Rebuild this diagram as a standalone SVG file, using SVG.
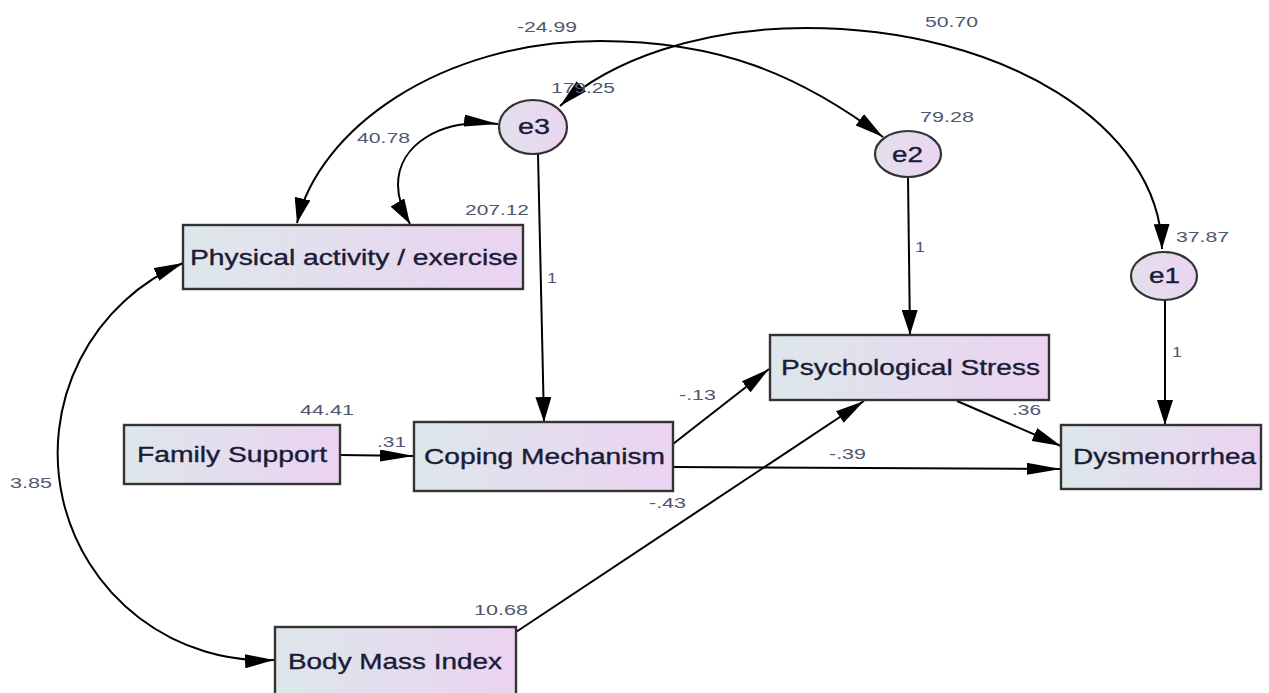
<svg xmlns="http://www.w3.org/2000/svg" width="1269" height="693" viewBox="0 0 1269 693">
<defs>
<linearGradient id="boxg" x1="0" y1="0" x2="1" y2="0">
<stop offset="0" stop-color="#dde7ea"/>
<stop offset="1" stop-color="#ebd3f1"/>
</linearGradient>
<linearGradient id="circg" x1="0" y1="0" x2="1" y2="0">
<stop offset="0" stop-color="#e1e0ec"/>
<stop offset="1" stop-color="#ecd4f2"/>
</linearGradient>
<marker id="av" markerUnits="userSpaceOnUse" markerWidth="25" markerHeight="16" refX="25" refY="8" orient="auto-start-reverse">
<path d="M0,0 L25,8 L0,16 Z" fill="#000"/>
</marker>
<marker id="ad" markerUnits="userSpaceOnUse" markerWidth="29" markerHeight="14" refX="29" refY="7" orient="auto-start-reverse">
<path d="M0,0 L29,7 L0,14 Z" fill="#000"/>
</marker>
<marker id="ah" markerUnits="userSpaceOnUse" markerWidth="34" markerHeight="12" refX="34" refY="6" orient="auto-start-reverse">
<path d="M0,0 L34,6 L0,12 Z" fill="#000"/>
</marker>
</defs>
<style>
.box{fill:url(#boxg);stroke:#333;stroke-width:2.4}
.circ{fill:url(#circg);stroke:#333;stroke-width:2.2}
.lbl{font-family:"Liberation Sans",Arial,sans-serif;font-size:21.5px;fill:#1b1b38;stroke:#1b1b38;stroke-width:0.35}
.num{font-family:"Liberation Sans",Arial,sans-serif;font-size:15.5px;fill:#4f5870}
.c{fill:none;stroke:#000;stroke-width:2}
</style>
<rect width="1269" height="693" fill="#fff"/>
<g id="connectors">
<path class="c" marker-start="url(#av)" marker-end="url(#ad)" d="M297,223 C318,130 440,41 600,41 C720,41 800,75 883,137"/>
<path class="c" marker-start="url(#ad)" marker-end="url(#av)" d="M560,106 C610,60 700,28 806,28 C1003,28 1160,126 1162,249"/>
<path class="c" marker-start="url(#ah)" marker-end="url(#av)" d="M498,124 C440,118 398,145 398,185 C398,200 403,212 410,224"/>
<path class="c" marker-start="url(#ad)" marker-end="url(#ad)" d="M183,263 A207,207 0 0 0 274,660"/>
<line class="c" marker-end="url(#av)" x1="538" y1="154" x2="544" y2="422"/>
<line class="c" marker-end="url(#av)" x1="908" y1="177" x2="910" y2="335"/>
<line class="c" marker-end="url(#av)" x1="1165" y1="300" x2="1165" y2="425"/>
<line class="c" marker-end="url(#ah)" x1="340" y1="455" x2="414" y2="456"/>
<line class="c" marker-end="url(#ad)" x1="673" y1="444" x2="769" y2="369"/>
<line class="c" marker-end="url(#ah)" x1="673" y1="467" x2="1061" y2="469"/>
<line class="c" marker-end="url(#ad)" x1="516" y1="632" x2="864" y2="401"/>
<line class="c" marker-end="url(#ad)" x1="957" y1="401" x2="1061" y2="446"/>
</g>
<g id="e3">
<ellipse class="circ" cx="533" cy="127" rx="34" ry="27"/>
<text class="lbl" x="518" y="134" textLength="32" lengthAdjust="spacingAndGlyphs">e3</text>
</g>
<g id="e2">
<ellipse class="circ" cx="908" cy="154" rx="33" ry="23"/>
<text class="lbl" x="892" y="162" textLength="31" lengthAdjust="spacingAndGlyphs">e2</text>
</g>
<g id="e1">
<ellipse class="circ" cx="1164" cy="276" rx="33" ry="24"/>
<text class="lbl" x="1149" y="283" textLength="31" lengthAdjust="spacingAndGlyphs">e1</text>
</g>
<g id="physical-activity">
<rect class="box" x="183" y="225" width="340" height="64"/>
<text class="lbl" x="190" y="265" textLength="328" lengthAdjust="spacingAndGlyphs">Physical activity / exercise</text>
</g>
<g id="family-support">
<rect class="box" x="124" y="425" width="216" height="59"/>
<text class="lbl" x="137" y="462" textLength="190" lengthAdjust="spacingAndGlyphs">Family Support</text>
</g>
<g id="coping-mechanism">
<rect class="box" x="414" y="422" width="259" height="69"/>
<text class="lbl" x="424" y="464" textLength="241" lengthAdjust="spacingAndGlyphs">Coping Mechanism</text>
</g>
<g id="psychological-stress">
<rect class="box" x="770" y="335" width="279" height="65"/>
<text class="lbl" x="781" y="375" textLength="259" lengthAdjust="spacingAndGlyphs">Psychological Stress</text>
</g>
<g id="dysmenorrhea">
<rect class="box" x="1061" y="425" width="200" height="64"/>
<text class="lbl" x="1073" y="464" textLength="183" lengthAdjust="spacingAndGlyphs">Dysmenorrhea</text>
</g>
<g id="body-mass-index">
<rect class="box" x="275" y="627" width="241" height="75"/>
<text class="lbl" x="288" y="669" textLength="214" lengthAdjust="spacingAndGlyphs">Body Mass Index</text>
</g>
<g id="labels">
<text class="num" x="517" y="32" textLength="60" lengthAdjust="spacingAndGlyphs">-24.99</text>
<text class="num" x="925" y="27" textLength="53" lengthAdjust="spacingAndGlyphs">50.70</text>
<text class="num" x="551" y="93" textLength="64" lengthAdjust="spacingAndGlyphs">179.25</text>
<text class="num" x="357" y="143" textLength="53" lengthAdjust="spacingAndGlyphs">40.78</text>
<text class="num" x="465" y="215" textLength="64" lengthAdjust="spacingAndGlyphs">207.12</text>
<text class="num" x="547" y="283" textLength="10" lengthAdjust="spacingAndGlyphs">1</text>
<text class="num" x="920" y="122" textLength="54" lengthAdjust="spacingAndGlyphs">79.28</text>
<text class="num" x="1176" y="242" textLength="53" lengthAdjust="spacingAndGlyphs">37.87</text>
<text class="num" x="915" y="252" textLength="10" lengthAdjust="spacingAndGlyphs">1</text>
<text class="num" x="1172" y="357" textLength="10" lengthAdjust="spacingAndGlyphs">1</text>
<text class="num" x="300" y="415" textLength="54" lengthAdjust="spacingAndGlyphs">44.41</text>
<text class="num" x="377" y="447" textLength="29" lengthAdjust="spacingAndGlyphs">.31</text>
<text class="num" x="10" y="488" textLength="42" lengthAdjust="spacingAndGlyphs">3.85</text>
<text class="num" x="649" y="508" textLength="37" lengthAdjust="spacingAndGlyphs">-.43</text>
<text class="num" x="474" y="615" textLength="54" lengthAdjust="spacingAndGlyphs">10.68</text>
<text class="num" x="679" y="400" textLength="37" lengthAdjust="spacingAndGlyphs">-.13</text>
<text class="num" x="1012" y="415" textLength="29" lengthAdjust="spacingAndGlyphs">.36</text>
<text class="num" x="829" y="459" textLength="37" lengthAdjust="spacingAndGlyphs">-.39</text>
</g>
</svg>
